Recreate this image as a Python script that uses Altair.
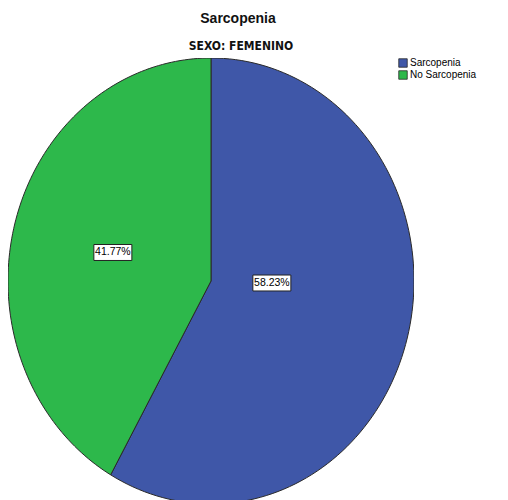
import altair as alt
import pandas as pd

# ---- data ----
categories = ["Sarcopenia", "No Sarcopenia"]
percentages = [58.23, 41.77]
slice_colors = ["#3F57A8", "#2DB84B"]
chart_title = ["Sarcopenia"]
chart_subtitle = ["SEXO: FEMENINO"]

W, H = 406, 442
N = 120  # arc resolution

df = pd.DataFrame({"category": categories, "pct": percentages, "ord": list(range(len(categories)))})

xs = alt.Scale(domain=[-1, 1], range=[0, 406])
ys = alt.Scale(domain=[-1, 1], range=[446, 0])

base = alt.Chart(df).transform_window(
    cum="sum(pct)", sort=[alt.SortField("ord")]
).transform_calculate(
    start="datum.cum - datum.pct", end="datum.cum"
)

wedges = base.transform_calculate(
    s=f"sequence(-1, {N + 2})"
).transform_flatten(["s"]).transform_calculate(
    a=f"2*PI*(datum.start + (datum.end - datum.start)*clamp(datum.s, 0, {N})/{N})/100"
).transform_calculate(
    px=f"(datum.s < 0 || datum.s > {N}) ? 0 : sin(datum.a)",
    py=f"(datum.s < 0 || datum.s > {N}) ? 0 : cos(datum.a)",
).mark_line(stroke="#2a2a2a", strokeWidth=1, clip=True, interpolate="linear").encode(
    x=alt.X("px:Q", scale=xs, axis=None),
    y=alt.Y("py:Q", scale=ys, axis=None),
    fill=alt.Fill(
        "category:N",
        scale=alt.Scale(domain=categories, range=slice_colors),
        sort=categories,
        legend=alt.Legend(
            title=None, orient="none", legendX=390, legendY=0,
            symbolType="square", symbolSize=72, symbolStrokeColor="#2a2a2a",
            symbolStrokeWidth=0.8, labelFont="Liberation Sans", labelFontSize=10,
            labelColor="#000", rowPadding=0, labelOffset=2, padding=0,
        ),
    ),
    detail="category:N",
    order="s:Q",
)

labels_base = base.transform_calculate(
    f="datum.category == 'Sarcopenia' ? 0.4375 : 0.5",
    r="datum.category == 'Sarcopenia' ? 0.30 : 0.5",
).transform_calculate(
    am="2*PI*(datum.start + (datum.end - datum.start)*datum.f)/100"
).transform_calculate(
    lx="datum.r*sin(datum.am)",
    ly="datum.r*cos(datum.am)",
    lab="format(datum.pct, '.2f') + '%'",
)

boxes = labels_base.mark_point(
    shape="M-1,-0.42L1,-0.42L1,0.42L-1,0.42Z", filled=True, fill="white",
    stroke="#222", strokeWidth=1, size=1444, opacity=1,
).encode(
    x=alt.X("lx:Q", scale=xs, axis=None),
    y=alt.Y("ly:Q", scale=ys, axis=None),
)

texts = labels_base.mark_text(
    font="Liberation Sans", fontSize=10.5, color="black", baseline="middle", align="center",
).encode(
    x=alt.X("lx:Q", scale=xs, axis=None),
    y=alt.Y("ly:Q", scale=ys, axis=None),
    text="lab:N",
)

title = alt.Chart(pd.DataFrame({"t": chart_title})).mark_text(
    font="Liberation Sans", fontSize=14, fontWeight="bold", color="#111", align="center", baseline="alphabetic",
).encode(x=alt.value(230), y=alt.value(-35), text="t:N")

subtitle = alt.Chart(pd.DataFrame({"t": chart_subtitle})).mark_text(
    font="DejaVu Sans Condensed, Liberation Sans Narrow, Liberation Sans", fontSize=12, fontWeight="bold",
    color="#111", align="center", baseline="alphabetic",
).encode(x=alt.value(233), y=alt.value(-8), text="t:N")

chart = alt.layer(wedges, boxes, texts, title, subtitle).properties(
    width=W, height=H,
    autosize=alt.AutoSizeParams(type="none"),
    padding={"left": 8, "top": 58, "right": 94, "bottom": 0},
    background="white",
).configure_view(stroke=None)

chart.save("out.html", embed_options={"renderer": "svg", "actions": False})
